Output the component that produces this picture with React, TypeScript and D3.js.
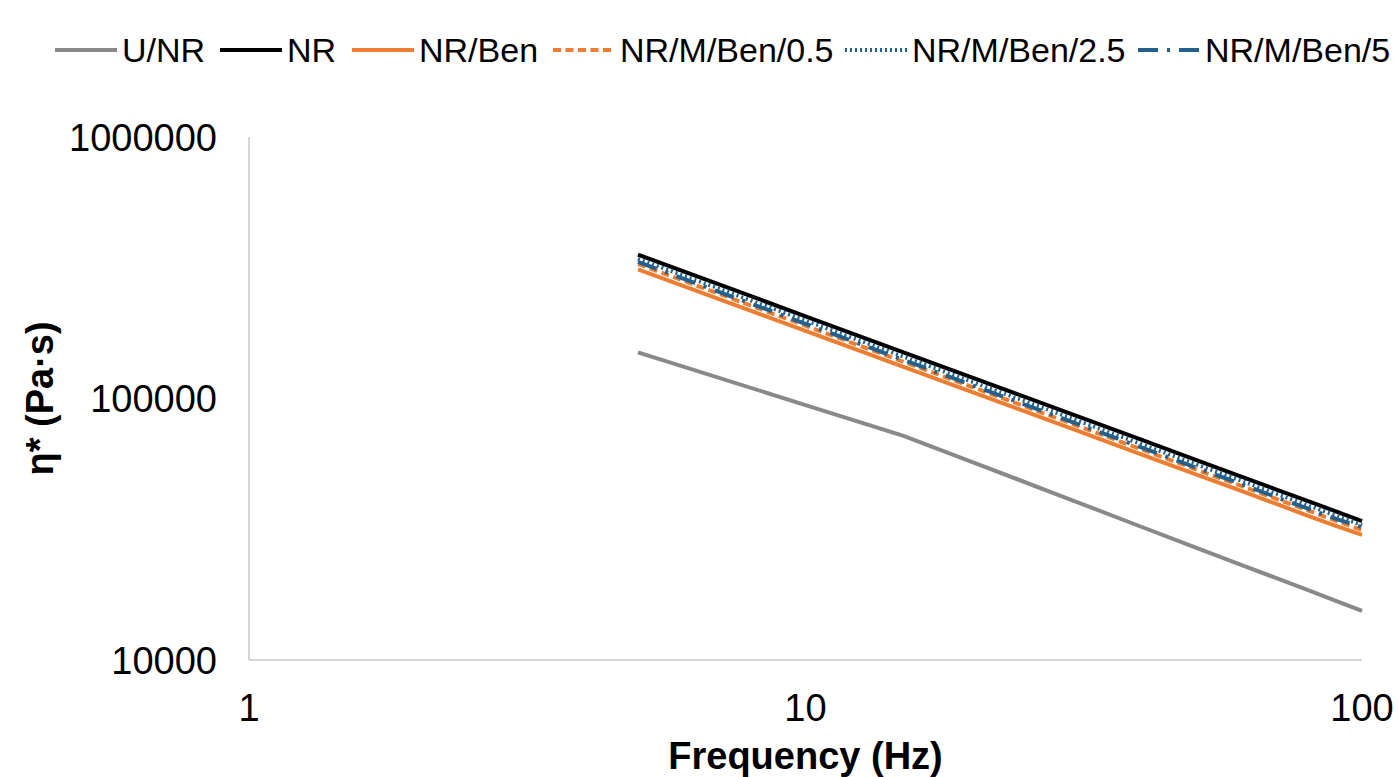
import React from "react";
import * as d3 from "d3";

const frequency = [5, 10, 15, 20, 30, 40, 50, 60, 70, 80, 90, 100];
const uNR = [150000, 94400, 72000, 57000, 41000, 32400, 27000, 23300, 20600, 18500, 16800, 15400];
const nr = [355000, 206300, 150200, 119900, 87300, 69700, 58500, 50750, 44970, 40500, 36950, 34000];
const nrBen = [312000, 181500, 132200, 105500, 76800, 61300, 51500, 44700, 39600, 35600, 32500, 30100];
const nrMBen05 = [327000, 189800, 138200, 110300, 80300, 64100, 53800, 46700, 41400, 37300, 34000, 31400];
const nrMBen25 = [342000, 198700, 144600, 115500, 84100, 67100, 56300, 48900, 43300, 39000, 35600, 32800];
const nrMBen5 = [333000, 193000, 140400, 112100, 81600, 65200, 54700, 47500, 42000, 37900, 34600, 32200];

const seriesNames = ["U/NR", "NR", "NR/Ben", "NR/M/Ben/0.5", "NR/M/Ben/2.5", "NR/M/Ben/5"];
const yTicks = [10000, 100000, 1000000];
const xTicks = [1, 10, 100];

const styles = [
  { color: "#898989", dash: "none" },
  { color: "#000000", dash: "none" },
  { color: "#ed7d31", dash: "none" },
  { color: "#ed7d31", dash: "8,4.5" },
  { color: "#22618d", dash: "2,3" },
  { color: "#22618d", dash: "20,9,3,9" },
];

// legend item start positions (px)
const legendX = [55, 220, 352, 553, 845, 1138];

const App = () => {
  const width = 1398, height = 777;
  const margin = { left: 249, right: 36, top: 137, bottom: 117 };

  const x = d3.scaleLog().domain([1, 100]).range([margin.left, width - margin.right]);
  const y = d3.scaleLog().domain([10000, 1000000]).range([height - margin.bottom, margin.top]);

  const allValues = [uNR, nr, nrBen, nrMBen05, nrMBen25, nrMBen5];
  const line = d3.line<number>()
    .x((_, i) => x(frequency[i]))
    .y(d => y(d));

  const font = "Liberation Sans, Arial, sans-serif";

  return (
    <svg width={width} height={height} style={{ position: "absolute", left: 0, top: 0, background: "#fff" }}>
      {/* axes */}
      <line x1={x(1)} x2={x(1)} y1={y(1000000)} y2={y(10000)} stroke="#c8c8c8" strokeWidth={1.5} />
      <line x1={x(1)} x2={x(100)} y1={y(10000)} y2={y(10000)} stroke="#c8c8c8" strokeWidth={1.5} />

      {yTicks.map(t => (
        <text key={t} x={217} y={y(t)} dy="0.36em" textAnchor="end" fontFamily={font} fontSize={38} fill="#000">
          {t}
        </text>
      ))}
      {xTicks.map(t => (
        <text key={t} x={x(t)} y={721} textAnchor="middle" fontFamily={font} fontSize={38} fill="#000">
          {t}
        </text>
      ))}

      <text x={x(10)} y={769} textAnchor="middle" fontFamily={font} fontSize={38} fontWeight="bold">
        Frequency (Hz)
      </text>
      <text transform={`translate(53,${(y(10000) + y(1000000)) / 2}) rotate(-90)`} textAnchor="middle"
        fontFamily={font} fontSize={38} fontWeight="bold">
        η* (Pa·s)
      </text>

      {allValues.map((vals, i) => (
        <path key={seriesNames[i]} d={line(vals) || ""} fill="none" stroke={styles[i].color}
          strokeWidth={4} strokeDasharray={styles[i].dash} />
      ))}

      {seriesNames.map((name, i) => (
        <g key={name} transform={`translate(${legendX[i]},50)`}>
          <line x1={0} x2={62} y1={0} y2={0} stroke={styles[i].color} strokeWidth={4}
            strokeDasharray={styles[i].dash} />
          <text x={67} y={0} dy="0.36em" fontFamily={font} fontSize={34}>{name}</text>
        </g>
      ))}
    </svg>
  );
};

export default App;
